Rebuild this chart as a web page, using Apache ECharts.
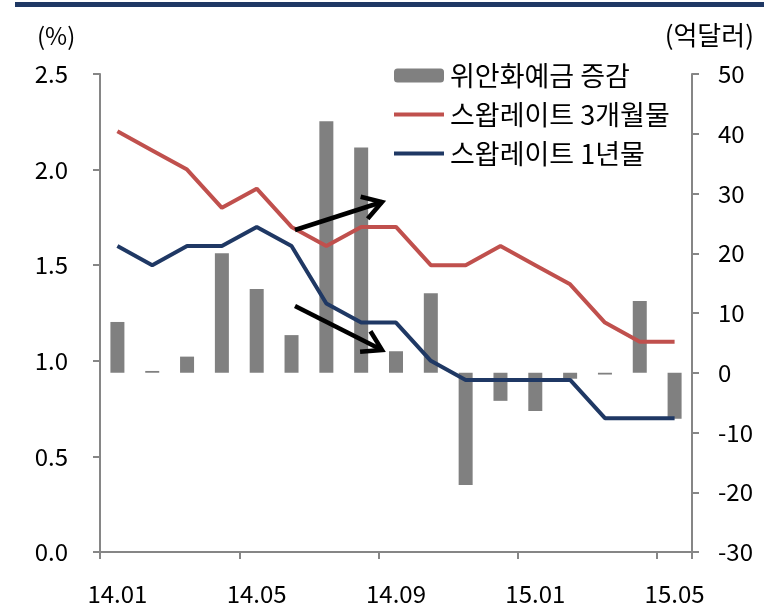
<!DOCTYPE html>
<html>
<head>
<meta charset="utf-8">
<script src="https://cdn.jsdelivr.net/npm/echarts@6/dist/echarts.min.js"></script>
<style>
  html, body { margin: 0; padding: 0; background: #fff; }
  #chart { width: 764px; height: 610px; }
</style>
</head>
<body>
<div id="chart"></div>
<script>
// Monthly categories, 2014.01 – 2015.05
const months = ['14.01','14.02','14.03','14.04','14.05','14.06','14.07','14.08','14.09',
                '14.10','14.11','14.12','15.01','15.02','15.03','15.04','15.05'];
// 위안화예금 증감 (억달러, right axis)
const depositChange = [8.5, 0.3, 2.7, 20.0, 14.0, 6.3, 42.1, 37.7, 3.6,
                       13.3, -18.8, -4.7, -6.4, -1.0, -0.3, 12.0, -7.7];
// 스왑레이트 3개월물 (%, left axis)
const swap3m = [2.2, 2.1, 2.0, 1.8, 1.9, 1.7, 1.6, 1.7, 1.7,
                1.5, 1.5, 1.6, 1.5, 1.4, 1.2, 1.1, 1.1];
// 스왑레이트 1년물 (%, left axis)
const swap1y = [1.6, 1.5, 1.6, 1.6, 1.7, 1.6, 1.3, 1.2, 1.2,
                1.0, 0.9, 0.9, 0.9, 0.9, 0.7, 0.7, 0.7];
const seriesNames = ['위안화예금 증감', '스왑레이트 3개월물', '스왑레이트 1년물'];

const FONT = "'Noto Sans CJK KR', 'Noto Sans', sans-serif";
const AXIS_GRAY = '#868686';
const RED = '#C0504D';
const NAVY = '#1F3864';

const chart = echarts.init(document.getElementById('chart'), null, { renderer: 'canvas' });

// Arrow annotation: shaft plus an open V head at the end point
function arrow(x1, y1, x2, y2) {
  const ang = Math.atan2(y2 - y1, x2 - x1);
  const len = 22, spread = 0.55;
  const a = [x2 - len * Math.cos(ang - spread), y2 - len * Math.sin(ang - spread)];
  const b = [x2 - len * Math.cos(ang + spread), y2 - len * Math.sin(ang + spread)];
  const style = { stroke: '#000', lineWidth: 4.5, fill: null, lineCap: 'butt', lineJoin: 'miter' };
  return [
    { type: 'line', shape: { x1, y1, x2, y2 }, style, z: 100 },
    { type: 'polyline', shape: { points: [a, [x2, y2], b] }, style, z: 100 }
  ];
}

chart.setOption({
  animation: false,
  textStyle: { fontFamily: FONT },
  grid: { left: 100, right: 72, top: 74, bottom: 58, containLabel: false },
  legend: {
    orient: 'vertical',
    left: 387, top: 57,
    itemWidth: 50, itemHeight: 14, itemGap: 12,
    lineStyle: { width: 4 },
    textStyle: { fontSize: 27, lineHeight: 26, color: '#000', fontFamily: FONT, padding: [0, 0, 0, 1] },
    data: [
      { name: seriesNames[0] },
      { name: seriesNames[1], itemStyle: { opacity: 0 } },
      { name: seriesNames[2], itemStyle: { opacity: 0 } }
    ]
  },
  xAxis: {
    type: 'category',
    data: months,
    boundaryGap: true,
    axisLine: { lineStyle: { color: AXIS_GRAY, width: 2 } },
    axisTick: { show: true, interval: 3, length: 7, lineStyle: { color: AXIS_GRAY, width: 2 } },
    axisLabel: { interval: 3, margin: 30, fontSize: 24, color: '#000', fontFamily: FONT }
  },
  yAxis: [
    {
      type: 'value', min: 0, max: 2.5, interval: 0.5,
      axisLine: { show: true, lineStyle: { color: AXIS_GRAY, width: 2 } },
      axisTick: { show: true, length: 7, lineStyle: { color: AXIS_GRAY, width: 2 } },
      splitLine: { show: false },
      axisLabel: { margin: 32, fontSize: 24, color: '#000', fontFamily: FONT,
                   formatter: v => v.toFixed(1) }
    },
    {
      type: 'value', min: -30, max: 50, interval: 10,
      position: 'right',
      axisLine: { show: true, lineStyle: { color: AXIS_GRAY, width: 2 } },
      axisTick: { show: true, length: 7, lineStyle: { color: AXIS_GRAY, width: 2 } },
      splitLine: { show: false },
      axisLabel: { margin: 26, fontSize: 24, color: '#000', fontFamily: FONT }
    }
  ],
  series: [
    {
      name: seriesNames[0], type: 'bar', yAxisIndex: 1,
      data: depositChange, barWidth: 14,
      itemStyle: { color: '#808080' }, z: 1
    },
    {
      name: seriesNames[1], type: 'line', yAxisIndex: 0,
      data: swap3m, symbol: 'none',
      lineStyle: { color: RED, width: 4 }, itemStyle: { color: RED }, z: 3
    },
    {
      name: seriesNames[2], type: 'line', yAxisIndex: 0,
      data: swap1y, symbol: 'none',
      lineStyle: { color: NAVY, width: 4 }, itemStyle: { color: NAVY }, z: 3
    }
  ],
  graphic: [
    // header band
    { type: 'rect', shape: { x: 15, y: 2, width: 764, height: 5 }, style: { fill: NAVY } },
    // axis unit captions
    { type: 'text', left: 37, top: 24,
      style: { text: '(%)', fontSize: 24, fill: '#000', fontFamily: FONT } },
    { type: 'text', right: 10, top: 22,
      style: { text: '(억달러)', fontSize: 26, fill: '#000', fontFamily: FONT } },
    ...arrow(295, 230, 382, 202),
    ...arrow(295, 306, 382, 350)
  ]
});
</script>
</body>
</html>
